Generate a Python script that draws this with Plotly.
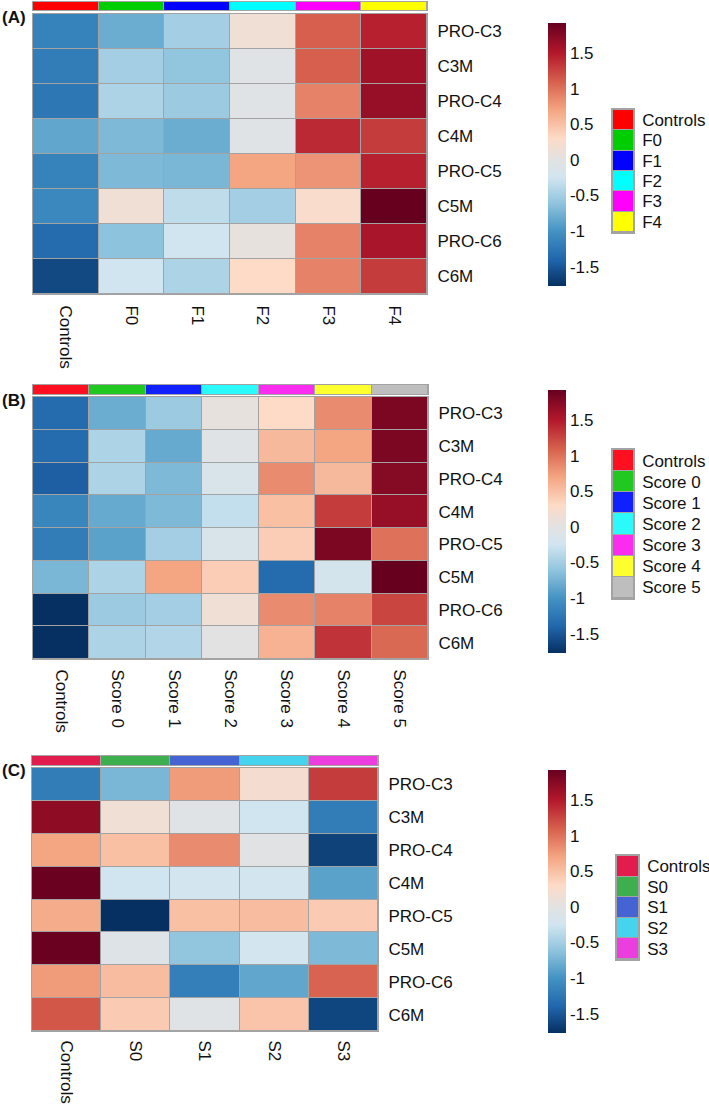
import plotly.graph_objects as go

W, H = 709, 1104
FONT = "Liberation Sans, Arial, Helvetica, sans-serif"
FS = 17
GRID = "#A3A3A3"

rows = ["PRO-C3", "C3M", "PRO-C4", "C4M", "PRO-C5", "C5M", "PRO-C6", "C6M"]

# Panel A: fibrosis stage
groups_a = ["Controls", "F0", "F1", "F2", "F3", "F4"]
colors_a = ["#FF0000", "#00CD00", "#0000FF", "#00FFFF", "#FF00FF", "#FFFF00"]
values_a = [
    [-1.15, -0.80, -0.50, 0.15, 1.10, 1.45],
    [-1.20, -0.50, -0.60, -0.05, 1.10, 1.60],
    [-1.25, -0.45, -0.55, -0.05, 0.90, 1.65],
    [-0.85, -0.70, -0.80, -0.05, 1.40, 1.30],
    [-1.15, -0.70, -0.72, 0.70, 0.80, 1.45],
    [-1.10, 0.15, -0.35, -0.50, 0.25, 1.92],
    [-1.35, -0.62, -0.25, 0.05, 0.90, 1.55],
    [-1.60, -0.25, -0.45, 0.30, 0.90, 1.30],
]

# Panel B: score
groups_b = ["Controls", "Score 0", "Score 1", "Score 2", "Score 3", "Score 4", "Score 5"]
colors_b = ["#FF1020", "#20C820", "#1020FF", "#2CFAFA", "#FA2CF0", "#FFFF30", "#BEBEBE"]
values_b = [
    [-1.35, -0.80, -0.55, 0.05, 0.30, 0.85, 1.80],
    [-1.35, -0.45, -0.82, -0.05, 0.55, 0.70, 1.80],
    [-1.45, -0.45, -0.70, -0.15, 0.85, 0.55, 1.75],
    [-1.12, -0.82, -0.70, -0.33, 0.50, 1.30, 1.65],
    [-1.20, -0.88, -0.50, -0.15, 0.40, 1.80, 1.00],
    [-0.72, -0.45, 0.70, 0.40, -1.35, -0.20, 1.92],
    [-1.77, -0.55, -0.50, 0.15, 0.85, 0.90, 1.25],
    [-1.77, -0.45, -0.42, 0.00, 0.60, 1.35, 1.05],
]

# Panel C: steatosis
groups_c = ["Controls", "S0", "S1", "S2", "S3"]
colors_c = ["#E31C4E", "#3EAF4F", "#4563D3", "#46D3EE", "#EC3DDE"]
values_c = [
    [-1.20, -0.72, 0.75, 0.20, 1.30],
    [1.70, 0.15, -0.05, -0.25, -1.20],
    [0.70, 0.50, 0.85, -0.03, -1.65],
    [1.90, -0.25, -0.22, -0.22, -0.88],
    [0.65, -1.77, 0.50, 0.52, 0.42],
    [1.90, -0.08, -0.60, -0.22, -0.70],
    [0.75, 0.52, -1.18, -0.85, 1.08],
    [1.15, 0.42, -0.05, 0.47, -1.62],
]

tick_vals = [-1.5, -1, -0.5, 0, 0.5, 1, 1.5]
tick_text = ["-1.5", "-1", "-0.5", "0", "0.5", "1", "1.5"]
ZMIN, ZMAX = -1.77, 1.92

stops = [(-1.77, "#053061"), (-1.4, "#2166AC"), (-1.0, "#4393C3"), (-0.6, "#92C5DE"),
         (-0.25, "#D1E5F0"), (0.0, "#E2E2E2"), (0.3, "#FDDBC7"), (0.7, "#F4A582"),
         (1.1, "#D6604D"), (1.5, "#B2182B"), (1.92, "#67001F")]
colorscale = [[(v - ZMIN) / (ZMAX - ZMIN), c] for v, c in stops]
colorscale[0][0] = 0.0
colorscale[-1][0] = 1.0

panels = [
    dict(label="(A)", groups=groups_a, colors=colors_a, values=values_a,
         hx=(33, 427), hy=(14, 294), by=(2, 10), lx=(613, 633), ly=(110, 232),
         cb=(548, 23, 286), ty=17, xt=7),
    dict(label="(B)", groups=groups_b, colors=colors_b, values=values_b,
         hx=(33, 428), hy=(397, 659), by=(385, 394), lx=(613, 633), ly=(450, 598),
         cb=(548, 390, 653), ty=400, xt=6),
    dict(label="(C)", groups=groups_c, colors=colors_c, values=values_c,
         hx=(32, 378), hy=(768, 1031), by=(756, 765), lx=(617, 638), ly=(856, 959),
         cb=(548, 770, 1033), ty=770, xt=5),
]

def xd(a, b):
    return [a / W, b / W]

def yd(top, bottom):
    return [1 - bottom / H, 1 - top / H]

fig = go.Figure()
layout = dict(width=W, height=H, margin=dict(l=0, r=0, t=0, b=0, autoexpand=False),
              paper_bgcolor="white", plot_bgcolor=GRID,
              font=dict(family=FONT, size=FS, color="#111111"),
              showlegend=False)
annotations = []
ax = 0

def axname(i):
    return "" if i == 1 else str(i)

base = dict(showgrid=False, zeroline=False, automargin=False,
            showline=True, linecolor=GRID, linewidth=1, mirror=True)

for p in panels:
    n = len(p["groups"])
    # main heatmap
    ax += 1
    a = axname(ax)
    cbx, cbt, cbb = p["cb"]
    fig.add_trace(go.Heatmap(
        z=p["values"], x=p["groups"], y=rows, xaxis="x" + a, yaxis="y" + a,
        colorscale=colorscale, zmin=ZMIN, zmax=ZMAX, xgap=1, ygap=1,
        colorbar=dict(x=cbx / W, xanchor="left", y=1 - cbt / H, yanchor="top",
                      len=cbb - cbt, lenmode="pixels", thickness=18,
                      thicknessmode="pixels", outlinewidth=0, xpad=0, ypad=0,
                      tickvals=tick_vals, ticktext=tick_text, ticks="",
                      tickfont=dict(family=FONT, size=FS, color="#111111"))))
    layout["xaxis" + a] = dict(base, domain=xd(*p["hx"]), anchor="y" + a, side="bottom",
                               tickangle=90, ticks="outside", ticklen=p["xt"],
                               tickcolor="rgba(0,0,0,0)", tickfont=dict(size=FS))
    layout["yaxis" + a] = dict(base, domain=yd(*p["hy"]), anchor="x" + a, side="right",
                               autorange="reversed", ticks="outside", ticklen=6,
                               tickcolor="rgba(0,0,0,0)", tickfont=dict(size=FS))
    # annotation bar
    ax += 1
    b = axname(ax)
    cs = [[i / (n - 1), c] for i, c in enumerate(p["colors"])]
    fig.add_trace(go.Heatmap(
        z=[list(range(n))], x=p["groups"], y=["group"], xaxis="x" + b, yaxis="y" + b,
        colorscale=cs, zmin=0, zmax=n - 1, showscale=False, xgap=1, ygap=0))
    layout["xaxis" + b] = dict(base, domain=xd(*p["hx"]), anchor="y" + b,
                               showticklabels=False, ticks="")
    layout["yaxis" + b] = dict(base, domain=yd(*p["by"]), anchor="x" + b,
                               showticklabels=False, ticks="")
    # categorical legend
    ax += 1
    c = axname(ax)
    fig.add_trace(go.Heatmap(
        z=[[i] for i in range(n)], x=["key"], y=p["groups"], xaxis="x" + c, yaxis="y" + c,
        colorscale=cs, zmin=0, zmax=n - 1, showscale=False, xgap=0, ygap=1))
    layout["xaxis" + c] = dict(base, domain=xd(*p["lx"]), anchor="y" + c,
                               showticklabels=False, ticks="", linewidth=1.5)
    layout["yaxis" + c] = dict(base, domain=yd(*p["ly"]), anchor="x" + c, side="right",
                               autorange="reversed", ticks="outside", ticklen=4,
                               tickcolor="rgba(0,0,0,0)", linewidth=1.5,
                               tickfont=dict(size=FS))
    annotations.append(dict(text="<b>" + p["label"] + "</b>", x=0, y=1 - p["ty"] / H,
                            xref="paper", yref="paper", xanchor="left", yanchor="middle",
                            showarrow=False, font=dict(family=FONT, size=FS, color="#111111")))

layout["annotations"] = annotations
fig.update_layout(**layout)
fig.write_html("out.html", config={"displayModeBar": False},
               post_script="document.body.style.margin='0';")
